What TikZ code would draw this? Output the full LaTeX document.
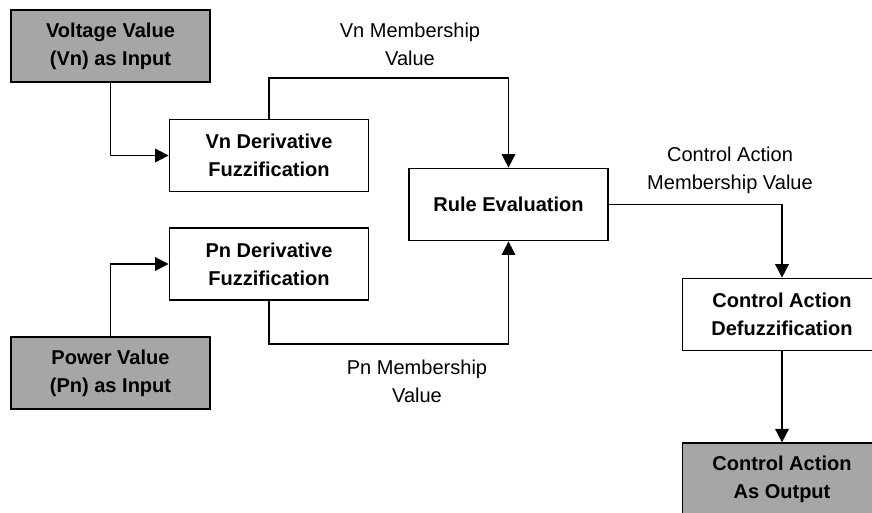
\documentclass[tikz,border=0pt]{standalone}
\usepackage{fontspec}
\setmainfont{Liberation Sans}
\usepackage{xcolor}
\usetikzlibrary{arrows.meta,positioning}

\begin{document}
\begin{tikzpicture}[
    >={Triangle[length=0.27cm,width=0.27cm]},
    font=\fontsize{11.4pt}{16pt}\selectfont,
    block/.style={draw, line width=1pt, align=center, minimum width=3.98cm, minimum height=1.44cm, inner sep=0pt, fill=white, font=\fontsize{11.4pt}{16pt}\selectfont\bfseries},
    io/.style={block, fill=gray!70},
    tag/.style={align=center, inner sep=0pt},
    arrow/.style={->, line width=1pt}
]
\useasboundingbox (0,0) rectangle (17.44,-10.24);
\node[io] (volt) at (2.21,-0.92) {Voltage Value\\(Vn) as Input};
\node[block] (vnfuzz) at (5.38,-3.11) {Vn Derivative\\Fuzzification};
\node[block] (rule) at (10.17,-4.09) {Rule Evaluation};
\node[block] (pnfuzz) at (5.38,-5.28) {Pn Derivative\\Fuzzification};
\node[io] (power) at (2.21,-7.46) {Power Value\\(Pn) as Input};
\node[block] (defuzz) at (15.64,-6.29) {Control Action\\Defuzzification};
\node[io, below=1.82cm of defuzz] (output) {Control Action\\As Output};
\node[tag] (vnmem) at (8.2,-0.88) {Vn Membership\\Value};
\node[tag] (pnmem) at (8.34,-7.62) {Pn Membership\\Value};
\node[tag] (camem) at (14.6,-3.4) {Control Action\\Membership Value};
\draw[arrow] (volt.south) |- (vnfuzz.west);
\draw[arrow] (power.north) |- (pnfuzz.west);
\draw[arrow] (vnfuzz.north) -- ++(0,0.82) -| (rule.north);
\draw[arrow] (pnfuzz.south) -- ++(0,-0.86) -| (rule.south);
\draw[arrow] (rule.east) -| (defuzz.north);
\draw[arrow] (defuzz) -- (output);
\end{tikzpicture}
\end{document}
